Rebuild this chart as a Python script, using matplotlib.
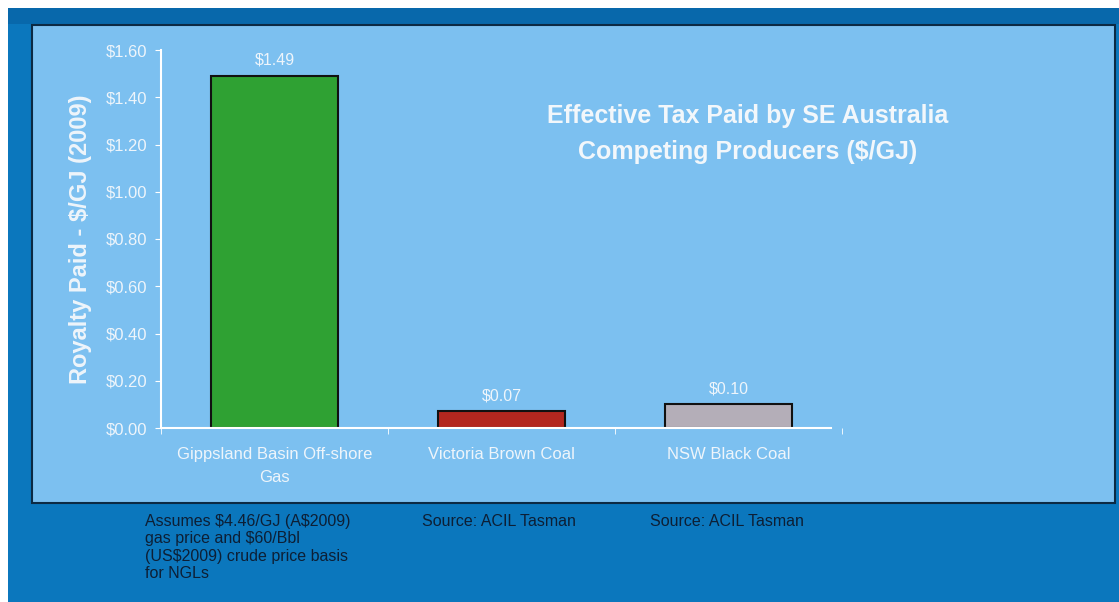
import numpy as np
import matplotlib.pyplot as plt
from matplotlib.patches import Rectangle

plt.rcParams['font.family'] = ['Liberation Sans', 'DejaVu Sans']

# data
categories = ['Gippsland Basin Off-shore\nGas', 'Victoria Brown Coal', 'NSW Black Coal']
values = [1.49, 0.07, 0.10]
value_labels = ['$1.49', '$0.07', '$0.10']
bar_colors = ['#2fa133', '#b3271f', '#b4aeb8']
yticks = [0.0, 0.2, 0.4, 0.6, 0.8, 1.0, 1.2, 1.4, 1.6]
notes = ['Assumes \\$4.46/GJ (A\\$2009)\ngas price and \\$60/Bbl\n(US\\$2009) crude price basis\nfor NGLs',
         'Source: ACIL Tasman', 'Source: ACIL Tasman']

W, H = 1119, 602
fig = plt.figure(figsize=(W / 100, H / 100), dpi=100)
fig.patch.set_facecolor('white')

def fx(px):
    return px / W

def fy(py):
    return 1 - py / H

# dark frame + light panel
fig.add_artist(Rectangle((fx(8), 0), 1 - fx(8), fy(8), transform=fig.transFigure,
                         facecolor='#0b77bd', edgecolor='none', zorder=0))
fig.add_artist(Rectangle((fx(8), fy(24)), 1 - fx(8), (24 - 8) / H, transform=fig.transFigure,
                         facecolor='#0868ab', edgecolor='none', zorder=0))
fig.add_artist(Rectangle((fx(32), fy(503)), fx(1115 - 32), (503 - 25) / H, transform=fig.transFigure,
                         facecolor='#7cc0f0', edgecolor='#0c2a44', linewidth=1.5, zorder=1))

ax = fig.add_axes([fx(161), fy(428), fx(842 - 161), (428 - 50) / H])
ax.set_facecolor('none')
ax.set_zorder(2)

x = np.arange(len(categories))
bars = ax.bar(x, values, width=0.56, color=bar_colors, edgecolor='#111111', linewidth=1.5)
for xi, v, lab in zip(x, values, value_labels):
    ax.text(xi, v + 0.035, lab, ha='center', va='bottom', color='#eef5fb', fontsize=11.5)

ax.set_xlim(-0.5, 2.5)
ax.set_ylim(0, 1.6)
ax.set_yticks(yticks)
ax.set_yticklabels([f'${t:.2f}' for t in yticks], color='#eef5fb', fontsize=12)
ax.set_xticks(x)
ax.set_xticklabels(categories, color='#eef5fb', fontsize=12, linespacing=1.6)
ax.tick_params(axis='x', which='major', length=0, pad=14)
ax.set_xticks([-0.5, 0.5, 1.5, 2.5], minor=True)
ax.tick_params(axis='x', which='minor', length=4, color='white', direction='out')
ax.tick_params(axis='y', length=4, color='white', direction='out', pad=6)

for side in ['top', 'right']:
    ax.spines[side].set_visible(False)
for side in ['left', 'bottom']:
    ax.spines[side].set_color('white')
    ax.spines[side].set_linewidth(1.5)
ax.spines['bottom'].set_bounds(-0.5, 2.45)

ax.set_ylabel('Royalty Paid - $/GJ (2009)', color='#eef5fb', fontsize=17,
              fontweight='bold', labelpad=10)

fig.text(fx(748), fy(134), 'Effective Tax Paid by SE Australia\nCompeting Producers ($/GJ)',
         ha='center', va='center', color='#f2f7fb', fontsize=18, fontweight='bold',
         linespacing=1.65, zorder=3)

# footnotes
note_x = [145, 422, 650]
for nx, note in zip(note_x, notes):
    fig.text(fx(nx), fy(514), note, ha='left', va='top', color='#0d1f35',
             fontsize=11.5, linespacing=1.2, zorder=3)

fig.savefig('out.png', dpi=100)
